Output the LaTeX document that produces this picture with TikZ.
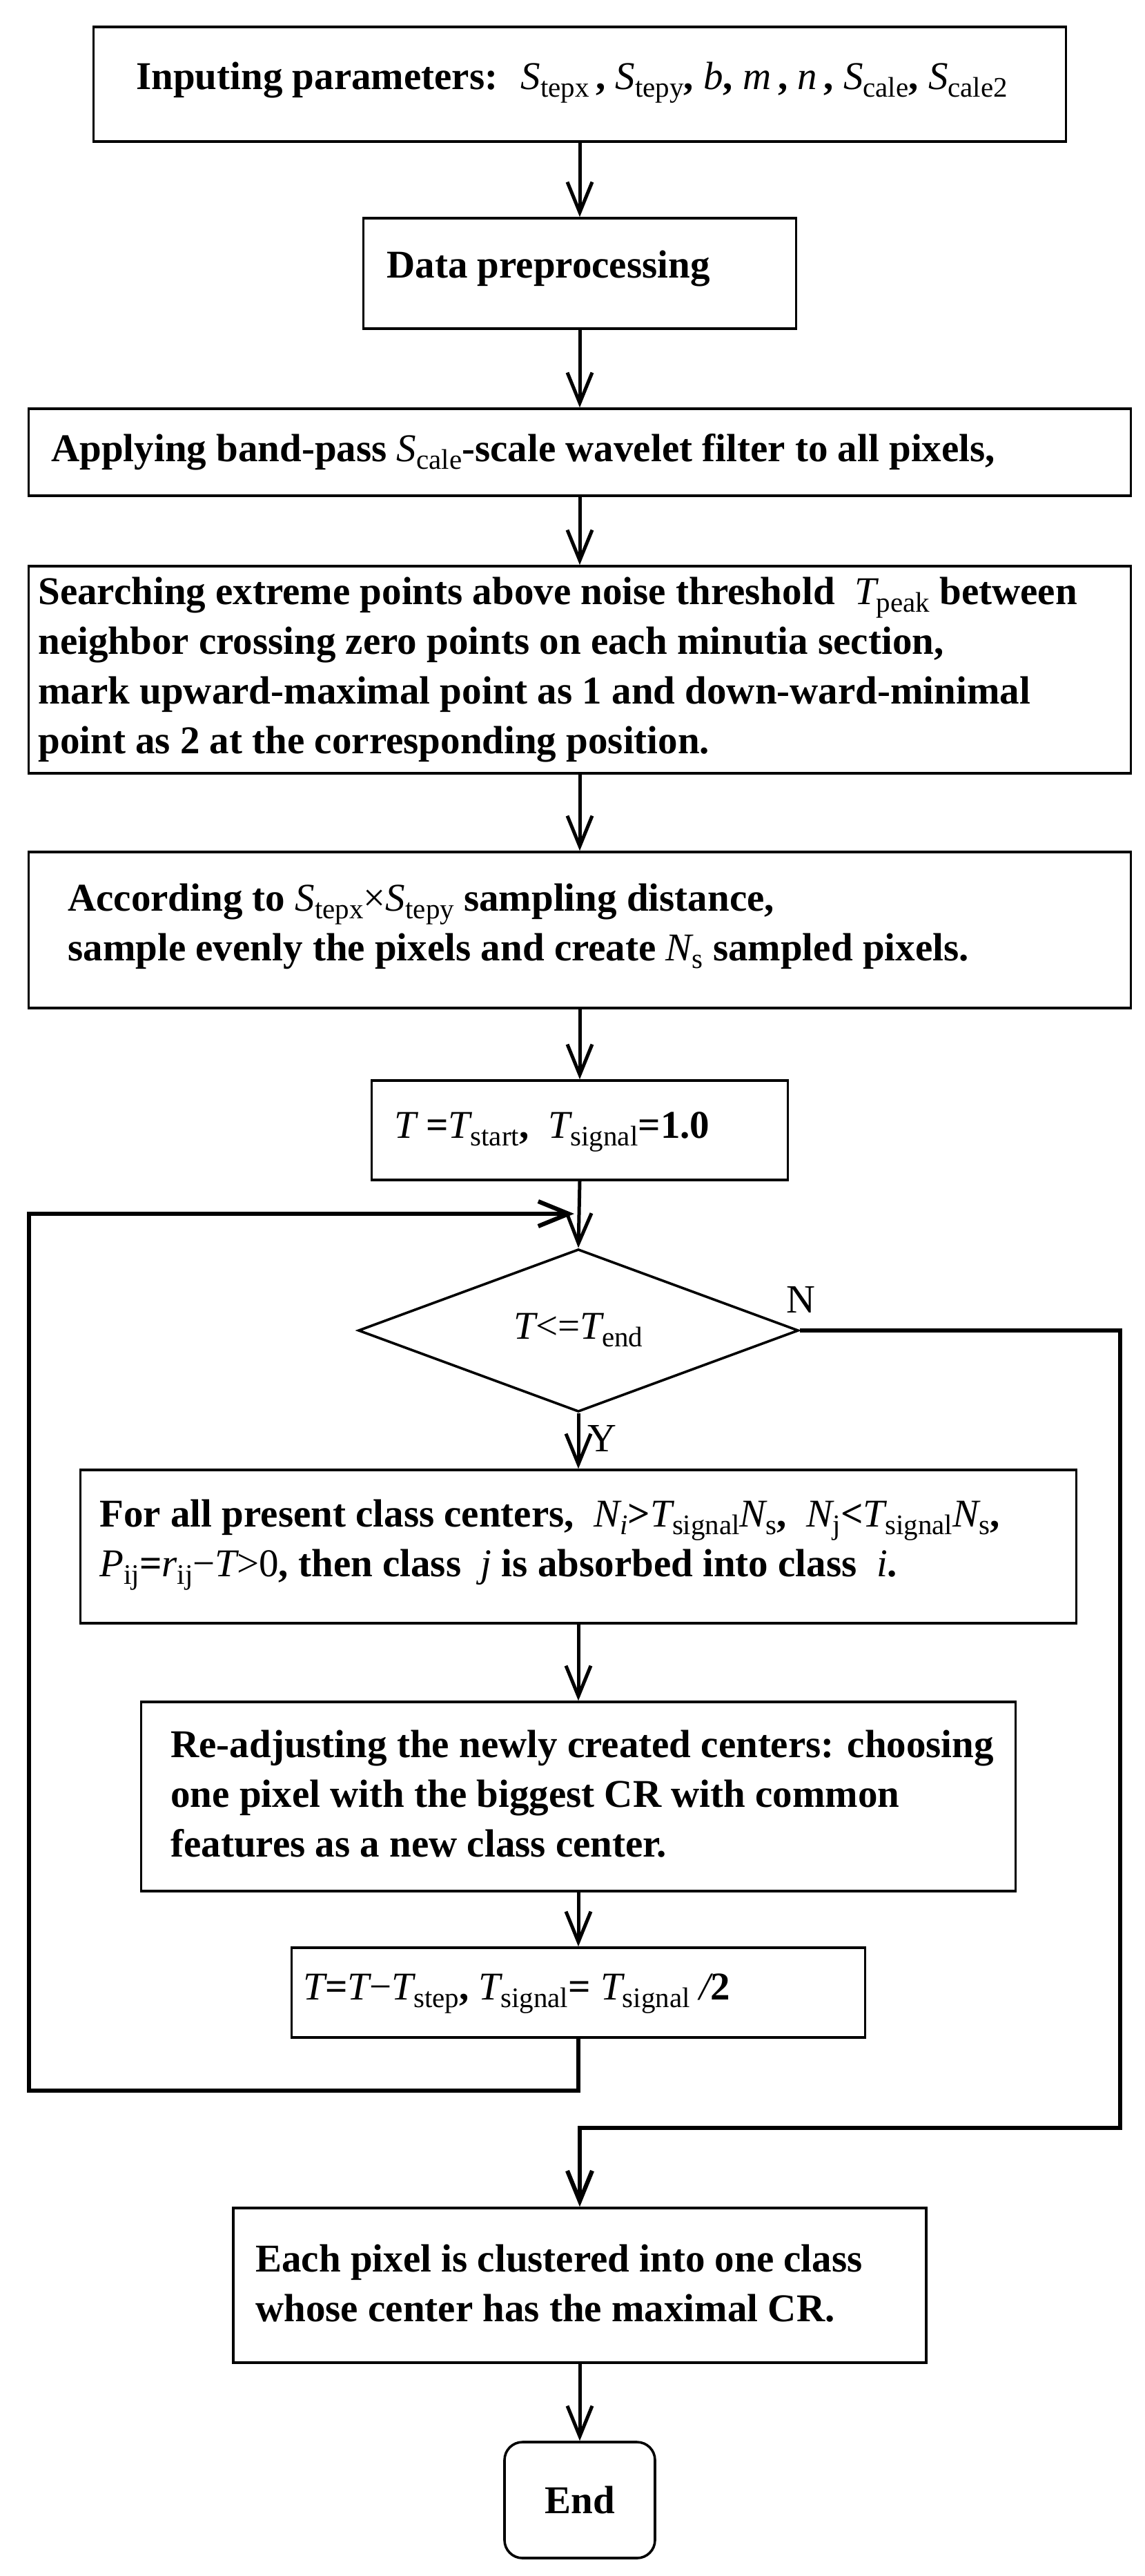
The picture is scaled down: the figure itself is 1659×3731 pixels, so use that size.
\documentclass[tikz,border=0pt]{standalone}
\usepackage{fontspec}
\setmainfont{Liberation Serif}
\usetikzlibrary{arrows.meta,shapes.geometric}
\newcommand\vi[1]{{\mdseries\itshape #1}}
\newcommand\lo[1]{\raisebox{-5.5pt}{\fontsize{20.5}{20.5}\selectfont\mdseries\upshape #1}}
\begin{document}
\begin{tikzpicture}[x=0.5pt,y=-0.5pt,
  box/.style={draw,line width=1.8pt,rectangle,inner sep=0pt},
  txt/.style={inner sep=0pt,anchor=west,align=left,font=\fontsize{28.5}{36}\selectfont\bfseries},
  conn/.style={line width=2.5pt,-{Straight Barb[length=22pt,width=18pt]}},
  loopl/.style={line width=3.1pt},
  lbl/.style={inner sep=0pt,font=\fontsize{29}{34}\selectfont}]
\useasboundingbox (0,0) rectangle (1659,3731);

\node[box,minimum width=704.5pt,minimum height=83pt] (b1) at (840,122) {};
\node[txt] (t1) at (197,120) {Inputing parameters: \ \vi{S}\lo{tepx}\,, \vi{S}\lo{tepy}, \vi{b}, \vi{m}\,, \vi{n}\,, \vi{S}\lo{cale}, \vi{S}\lo{cale2}};

\node[box,minimum width=313.5pt,minimum height=80pt] (b2) at (840,396) {};
\node[txt] (t2) at (560,389) {Data preprocessing};

\node[box,minimum width=798.5pt,minimum height=63pt] (b3) at (840,655) {};
\node[txt] (t3) at (74,655) {Applying band-pass \vi{S}\lo{cale}-scale wavelet filter to all pixels,};

\node[box,minimum width=798.5pt,minimum height=150pt] (b4) at (840,970) {};
\node[txt] (t4) at (55,970) {Searching extreme points above noise threshold \ \vi{T}\lo{peak} between\\
neighbor crossing zero points on each minutia section,\\
mark upward-maximal point as 1 and down-ward-minimal\\
point as 2 at the corresponding position.};

\node[box,minimum width=798.5pt,minimum height=113pt] (b5) at (840,1347) {};
\node[txt] (t5) at (98,1342) {According to \vi{S}\lo{tepx}{\mdseries×}\vi{S}\lo{tepy} sampling distance,\\
sample evenly the pixels and create \vi{N}\lo{s} sampled pixels.};

\node[box,minimum width=301.5pt,minimum height=72pt] (b6) at (840,1637) {};
\node[txt] (t6) at (571,1639) {\vi{T} =\vi{T}\lo{start}, \ \vi{T}\lo{signal}=1.0};

\node[draw,diamond,line width=1.8pt,inner sep=0pt,minimum width=319pt,minimum height=114pt,
  font=\fontsize{28.5}{34}\selectfont] (d) at (838,1927) {\vi{T}<=\vi{T}\lo{end}};

\node[box,minimum width=721.5pt,minimum height=111pt] (b7) at (838,2240) {};
\node[txt] (t7) at (144,2238) {For all present class centers, \ \vi{N}\lo{\itshape i}>\vi{T}\lo{signal}\vi{N}\lo{s}, \ \vi{N}\lo{j}<\vi{T}\lo{signal}\vi{N}\lo{s},\\
\vi{P}\lo{ij}=\vi{r}\lo{ij}{\mdseries−}\vi{T}{\mdseries>0}, then class \ \vi{j} is absorbed into class \ \vi{i}.};

\node[box,minimum width=633.5pt,minimum height=137pt] (b8) at (838,2602) {};
\node[txt] (t8) at (247,2598) {Re-adjusting the newly created centers: choosing\\
one pixel with the biggest CR with common\\
features as a new class center.};

\node[box,minimum width=415.5pt,minimum height=65pt] (b9) at (838,2886) {};
\node[txt] (t9) at (439,2888) {\vi{T}=\vi{T}{\mdseries−}\vi{T}\lo{step}, \vi{T}\lo{signal}= \vi{T}\lo{signal} \vi{/}2};

\node[box,minimum width=502pt,minimum height=112pt] (b10) at (840,3310) {};
\node[txt] (t10) at (370,3307) {Each pixel is clustered into one class\\
whose center has the maximal CR.};

\node[box,rounded corners=13pt,minimum width=109pt,minimum height=84pt,
  font=\fontsize{28.5}{34}\selectfont\bfseries] (end) at (840,3621) {End};

\node[lbl] (ln) at (1160,1882) {N};
\node[lbl] (ly) at (872,2083) {Y};

\draw[conn] (b1) -- (b2);
\draw[conn] (b2) -- (b3);
\draw[conn] (b3) -- (b4);
\draw[conn] (b4) -- (b5);
\draw[conn] (b5) -- (b6);
\draw[conn] (b6.south) -- (d.north);
\draw[conn] (d) -- (b7);
\draw[conn] (b7) -- (b8);
\draw[conn] (b8) -- (b9);
\draw[conn] (b10) -- (end);

\coordinate (lb) at (42,3028);
\coordinate (lj) at (832,1758);
\draw[loopl,-{Straight Barb[length=22pt,width=18pt]}] (b9) |- (lb) |- (lj);

\coordinate (nr) at (1623,3082);
\draw[loopl,-{Straight Barb[length=22pt,width=18pt]}] (d.east) -| (nr) -| (b10);
\end{tikzpicture}
\end{document}
